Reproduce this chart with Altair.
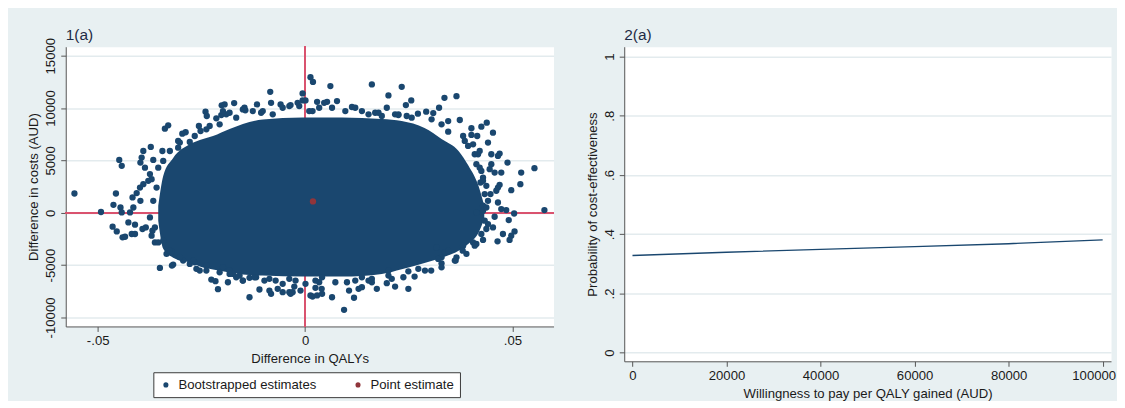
import altair as alt
import pandas as pd

# ---------------- data ----------------
# Panel 1(a): bootstrapped cost-effectiveness plane (visible individual points)
boot_x = [-0.0556, -0.0492, -0.0456, -0.0462, -0.0448, -0.0442, -0.0464, -0.0454, -0.0440, -0.0434,
          -0.0445, -0.0442, -0.0422, -0.0418, -0.0410, -0.0426, -0.0410, -0.0414, -0.0406, -0.0416,
          -0.0398, -0.0390, -0.0390, -0.0372, -0.0394, -0.0366, -0.0344, -0.0397, -0.0386, -0.0374,
          -0.0370, -0.0397, -0.0392, -0.0384, -0.0368, -0.0370, -0.0362, -0.0354, -0.0350, -0.0338,
          -0.0330, -0.0318, -0.0334, -0.0322, -0.0296, -0.0288, -0.0278, -0.0302, -0.0306, -0.0256,
          -0.0252, -0.0240, -0.0237, -0.0230, -0.0214, -0.0202, -0.0190, -0.0201, -0.0171, -0.0262,
          -0.0254, -0.0226, -0.0216, -0.0210, -0.0186, -0.0206, -0.0182, -0.0158, -0.0278, -0.0266,
          -0.0294, -0.0321, -0.0238, -0.0166, -0.0150, -0.0134, -0.0134, -0.0110, -0.0086, -0.0082,
          -0.0066, -0.0054, -0.0038, -0.0035, -0.0011, 0.0013, 0.0018, 0.0041, 0.0065, 0.0094,
          0.0118, 0.0106, 0.0137, 0.0173, 0.0197, 0.0217, -0.0098, -0.0071, 0.0034, 0.0101,
          0.0153, 0.0013, 0.0019, 0.0061, 0.0161, 0.0201, 0.0233, -0.0084, -0.0006, -0.0116,
          -0.0082, -0.0059, -0.0035, -0.0006, 0.0001, 0.0029, 0.0053, 0.0077, 0.0197, -0.0144,
          -0.0182, -0.0014, 0.0113, 0.0169, 0.0256, 0.0243, 0.0336, 0.0365, 0.0323, 0.0309,
          0.0292, 0.0272, 0.0225, 0.0245, 0.0373, 0.0329, 0.0345, 0.0401, 0.0425, 0.0438,
          0.0453, 0.0381, 0.0401, 0.0415, 0.0441, 0.0393, 0.0405, 0.0469, 0.0449, 0.0465,
          0.0488, 0.0417, 0.0421, 0.0413, 0.0449, 0.0445, 0.0457, 0.0473, 0.0521, 0.0553,
          0.0519, 0.0497, 0.0469, 0.0461, 0.0425, 0.0429, 0.0423, 0.0437, 0.0465, 0.0447,
          0.0441, 0.0429, 0.0465, 0.0485, 0.0577, 0.0473, 0.0504, 0.0491, 0.0457, 0.0413,
          0.0429, 0.0505, 0.0497, 0.0493, 0.0464, 0.0453, 0.0441, 0.0477, 0.0437, 0.0429,
          0.0413, 0.0405, 0.0381, 0.0380, 0.0365, 0.0363, 0.0337, 0.0329, 0.0304, 0.0264,
          0.0249, 0.0237, 0.0249, 0.0317, 0.0329, 0.0345, 0.0321, 0.0273, 0.0201, 0.0161,
          0.0129, 0.0029, 0.0040, 0.0025, -0.0026, -0.0030, -0.0198, -0.0150, -0.0102, -0.0054,
          0.0018, 0.0065, 0.0137, 0.0185, 0.0217, -0.0174, -0.0118, -0.0038, 0.0041, 0.0137,
          0.0201,
          # fringe hugging the dense core
          -0.0194, -0.0146, -0.0126, -0.0106, -0.0078, -0.0038, -0.0018, 0.0010, 0.0034, 0.0046,
          0.0097, 0.0121, 0.0153, 0.0177, 0.0225, -0.0182, -0.0150, -0.0122, -0.0086, -0.0054,
          -0.0023, 0.0001, 0.0025, 0.0073, 0.0121, 0.0161, 0.0209, -0.0378, -0.0366, -0.0374,
          -0.0362, -0.0358, -0.0354, -0.0342, -0.0326, -0.0306, -0.0342, -0.0326, -0.0302, -0.0270,
          -0.0238, -0.0198, -0.0266, -0.0238, -0.0206, -0.0166, 0.0385, 0.0409, 0.0421, 0.0429,
          0.0433, 0.0437, 0.0433, 0.0425, 0.0409, 0.0389, 0.0361, 0.0329, 0.0289, 0.0345,
          0.0305, 0.0257]
boot_y = [1840, 70, 1840, 760, 5050, 4480, -1330, -1780, -2350, -2290,
          500, 30, 30, -2030, -2030, -920, -1140, 500, 1880, 1460,
          2410, 2730, 5900, 6290, 5270, 5050, 5900, 4790, 4310, 3690,
          3210, 1140, -1550, -1400, -1710, -2190, -2830, -2830, -5270, 8030,
          8350, -4950, -3930, -3690, 7550, 7690, 6760, 6700, 6220, 8290,
          7810, 9650, 9240, 8290, 9020, 9330, 9400, 10260, 10480, -5360,
          -5520, -6380, -6540, -7300, -6640, -5690, -5520, -6000, -4890, -4730,
          -4570, -5050, -5050, -6160, -6480, -6220, -8070, -7330, -7430, -7740,
          -7270, -7590, -7590, -7740, -7430, -7900, -8000, -7740, -8070, -9270,
          -8120, -7430, -7110, -7270, -6730, -7050, -6480, -6480, -6640, -6640,
          -6480, 12950, 12500, 12100, 12260, 11210, 12030, 11550, 11400, 10350,
          10500, 10350, 10290, 10730, 10730, 10600, 10600, 10670, 10030, 9780,
          9550, 10190, 10100, 9550, 10730, 10290, 10980, 11140, 10030, 9520,
          9650, 9460, 9330, 9240, 8860, 8450, 7740, 8070, 8220, 8600,
          7650, 7330, 7430, 7330, 6700, 6380, 6540, 5650, 5590, 5430,
          4790, 5590, 5900, 4640, 4640, 4160, 3840, 3840, 3840, 4260,
          2730, 2160, 2670, 2100, 4000, 3360, 2890, 2570, 2410, 1780,
          1140, 670, 980, 260, 260, 350, -70, -700, -380, 30,
          190, -1780, -2190, -2600, -2730, -1400, -1080, -2030, -1550, -2600,
          -2980, -2830, -3140, -3620, -4260, -4570, -3780, -4260, -5520, -6100,
          -5590, -6160, -7270, -3300, -4830, -3620, -4410, -5360, -5520, -6310,
          -7270, -7900, -7270, -7170, -7050, -7590, 9710, 9870, 9710, 10030,
          9710, 10030, 9710, 9240, 9400, -5840, -6160, -6310, -6160, -6160,
          -6000,
          10350, 10030, 9710, 9550, 9400, 10190, 10500, 9710, 10030, 10500,
          9710, 10030, 9400, 9550, 9400, -5840, -6480, -6160, -6310, -6790,
          -6480, -6790, -6480, -6640, -6480, -6640, -6310, 3050, 1140, -450,
          -1400, 2410, 4310, 4950, 5900, 6860, -2670, -3620, -4260, -4570,
          -5520, -5210, 7330, 7970, 8450, 9080, 6860, 5590, 4310, 3050,
          1780, 500, -760, -2030, -3140, -3930, -4570, -5210, -5520, 8760,
          8920, 9080]

# dense core of the bootstrap cloud: upper and lower edge along the QALY axis
core_x = [-0.0354, -0.0342, -0.0318, -0.0277, -0.0246, -0.0222, -0.0182, -0.0150, -0.0102, -0.0006,
          0.0089, 0.0185, 0.0233, 0.0288, 0.0329, 0.0370, 0.0394, 0.0418, 0.0432]
core_top = [670, 3520, 5240, 6570, 7050, 7330, 8000, 8480, 8900, 9100,
            9100, 8950, 8760, 8100, 7050, 5900, 4480, 2570, 670]
core_bot = [-760, -3430, -4290, -4760, -5240, -5430, -5710, -5900, -6000, -6100,
            -6100, -5850, -5400, -4800, -4290, -3620, -2950, -1900, -570]

point_x = [0.0019]
point_y = [1080]

series_names = ["Bootstrapped estimates", "Point estimate"]

# Panel 2(a): cost-effectiveness acceptability curve
wtp = [0, 20000, 40000, 60000, 80000, 100000]
prob = [0.328, 0.339, 0.349, 0.358, 0.368, 0.381]

# tick values
x1_ticks = [-0.05, 0, 0.05]
y1_ticks = [-10000, -5000, 0, 5000, 10000, 15000]
x2_ticks = [0, 20000, 40000, 60000, 80000, 100000]
y2_ticks = [0, 0.2, 0.4, 0.6, 0.8, 1]

# ---------------- styling ----------------
NAVY = "#1a476f"
MAROON = "#90353b"
REF = "#d9536f"
BG = "#e8f0f2"
GRID = "#e3ebee"
FONT = "Liberation Sans"
TXT = "#1a1a1a"
FS = 13.2

boot_df = pd.DataFrame({"dq": boot_x, "dc": boot_y, "series": series_names[0]})
point_df = pd.DataFrame({"dq": point_x, "dc": point_y, "series": series_names[1]})
core_df = pd.DataFrame({"dq": core_x, "top": core_top, "bot": core_bot})
ceac_df = pd.DataFrame({"wtp": wtp, "prob": prob})

xs1 = alt.Scale(domain=[-0.0577, 0.0599], nice=False, zero=False)
ys1 = alt.Scale(domain=[-10860, 15860], nice=False, zero=False)
xs2 = alt.Scale(domain=[-1757, 101778], nice=False, zero=False)
ys2 = alt.Scale(domain=[-0.029, 1.033], nice=False, zero=False)

strip0 = "replace('' + datum.value, '0.', '.')"

x1_axis = alt.Axis(values=x1_ticks, labelExpr=strip0, title="Difference in QALYs", grid=False)
y1_axis = alt.Axis(values=y1_ticks, labelExpr="'' + datum.value", labelAngle=270,
                   labelAlign="center", labelBaseline="bottom",
                   title="Difference in costs (AUD)", grid=True)
x2_axis = alt.Axis(values=x2_ticks, labelExpr="'' + datum.value",
                   labelOffset={"condition": {"test": "datum.value == 100000", "value": -9}, "value": 0},
                   title="Willingness to pay per QALY gained (AUD)", grid=False)
y2_axis = alt.Axis(values=y2_ticks, labelExpr=strip0, labelAngle=270,
                   labelAlign="center", labelBaseline="bottom",
                   title="Probability of cost-effectiveness", grid=True)

color_enc = alt.Color(
    "series:N",
    scale=alt.Scale(domain=series_names, range=[NAVY, MAROON]),
    legend=alt.Legend(
        title=None, orient="none", legendX=88, legendY=327, direction="horizontal",
        fillColor="white", strokeColor="#3a3a3a", padding=6,
        symbolType="circle", symbolSize=26, symbolStrokeWidth=0,
        labelFont=FONT, labelFontSize=FS, labelColor=TXT,
        columnPadding=35, labelOffset=6,
    ),
)

h_rule = alt.Chart(core_df).mark_rule(color=REF, strokeWidth=1.5).encode(
    y=alt.Y(datum=0, scale=ys1, axis=y1_axis, title="Difference in costs (AUD)")
)
v_rule = alt.Chart(core_df).mark_rule(color=REF, strokeWidth=1.5).encode(
    x=alt.X(datum=0, scale=xs1, axis=x1_axis, title="Difference in QALYs")
)
core = alt.Chart(core_df).mark_area(color=NAVY, interpolate="monotone").encode(
    x=alt.X("dq:Q", scale=xs1, axis=x1_axis, title="Difference in QALYs"),
    y=alt.Y("top:Q", scale=ys1, axis=y1_axis, title="Difference in costs (AUD)"),
    y2="bot:Q",
)
boot = alt.Chart(boot_df).mark_circle(size=40, opacity=1).encode(
    x=alt.X("dq:Q", scale=xs1, axis=x1_axis, title="Difference in QALYs"),
    y=alt.Y("dc:Q", scale=ys1, axis=y1_axis, title="Difference in costs (AUD)"),
    color=color_enc,
)
pe = alt.Chart(point_df).mark_circle(size=40, opacity=1).encode(
    x=alt.X("dq:Q", scale=xs1, axis=x1_axis, title="Difference in QALYs"),
    y=alt.Y("dc:Q", scale=ys1, axis=y1_axis, title="Difference in costs (AUD)"),
    color=color_enc,
)

left = alt.layer(h_rule, v_rule, core, boot, pe).properties(
    width=490, height=281, title=alt.TitleParams("1(a)", anchor="start", offset=-6)
)

right = alt.Chart(ceac_df).mark_line(color=NAVY, strokeWidth=1.4).encode(
    x=alt.X("wtp:Q", scale=xs2, axis=x2_axis),
    y=alt.Y("prob:Q", scale=ys2, axis=y2_axis),
).properties(width=489, height=316, title=alt.TitleParams("2(a)", anchor="start", offset=3))

chart = alt.hconcat(left, right, spacing=29).configure(
    background=BG,
    padding={"left": 18, "top": 18, "right": 0, "bottom": 0},
).configure_view(
    fill="white", stroke="transparent"
).configure_axis(
    domainColor="#555555", domainWidth=1, tickColor="#555555", tickSize=5, tickWidth=1,
    labelFont=FONT, labelFontSize=FS, labelColor=TXT, labelPadding=3,
    titleFont=FONT, titleFontSize=FS, titleFontWeight="normal", titleColor=TXT,
    gridColor=GRID, gridWidth=1.5,
).configure_axisX(
    titlePadding=6
).configure_axisY(
    titlePadding=3
).configure_title(
    font=FONT, fontSize=15.5, fontWeight="normal", color="#1e2b45", frame="group"
)

chart.save("out.html", embed_options={"renderer": "svg", "actions": False})
